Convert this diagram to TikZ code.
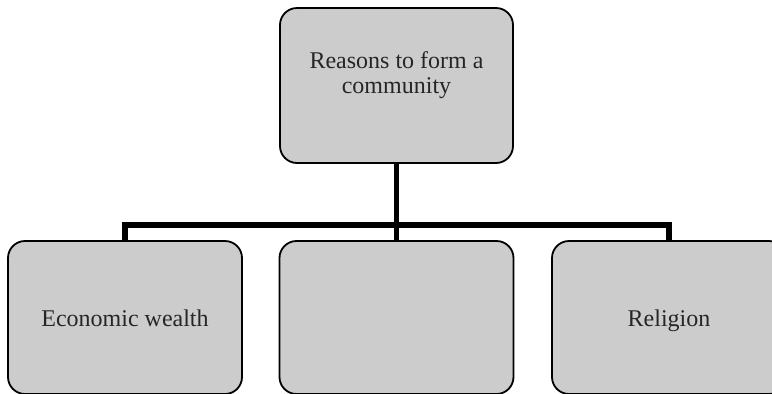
\documentclass[tikz,border=0pt]{standalone}
\usepackage{fontspec}
\setmainfont{Liberation Serif}
\usepackage{tikz}

\begin{document}
\begin{tikzpicture}[x=0.5pt, y=-0.5pt,
  box/.style = {draw, line width=0.9pt, rounded corners=8.5pt, fill=black!20,
                minimum width=117pt, minimum height=76.5pt, inner sep=0pt},
  lbl/.style = {align=center, text=black!85, font=\fontsize{12pt}{12.5pt}\selectfont},
  link/.style = {line width=2.9pt, line join=miter}]

\useasboundingbox (0, 0) rectangle (772, 393);

%% boxes
\node[box, minimum width=116.5pt, minimum height=77.5pt] (top) at (396.5, 85.5) {};
\node[box] (econ) at (125, 317.5) {};
\node[box] (mid) at (396.5, 317.5) {};
\node[box] (rel) at (669, 317.5) {};

%% labels
\node[lbl] (toptext) at (396.5, 75.5) {Reasons to form a\\community};
\node[lbl, anchor=base] (econtext) at (125, 326.5) {Economic wealth};
\node[lbl, anchor=base] (reltext) at (669, 326.5) {Religion};

%%% connectors
\coordinate (bar) at (396.5, 225);
\draw[link] (top.south) -- (mid.north);
\draw[link] (econ.north) -- (econ.north |- bar) -- (rel.north |- bar) -- (rel.north);

\end{tikzpicture}
\end{document}
